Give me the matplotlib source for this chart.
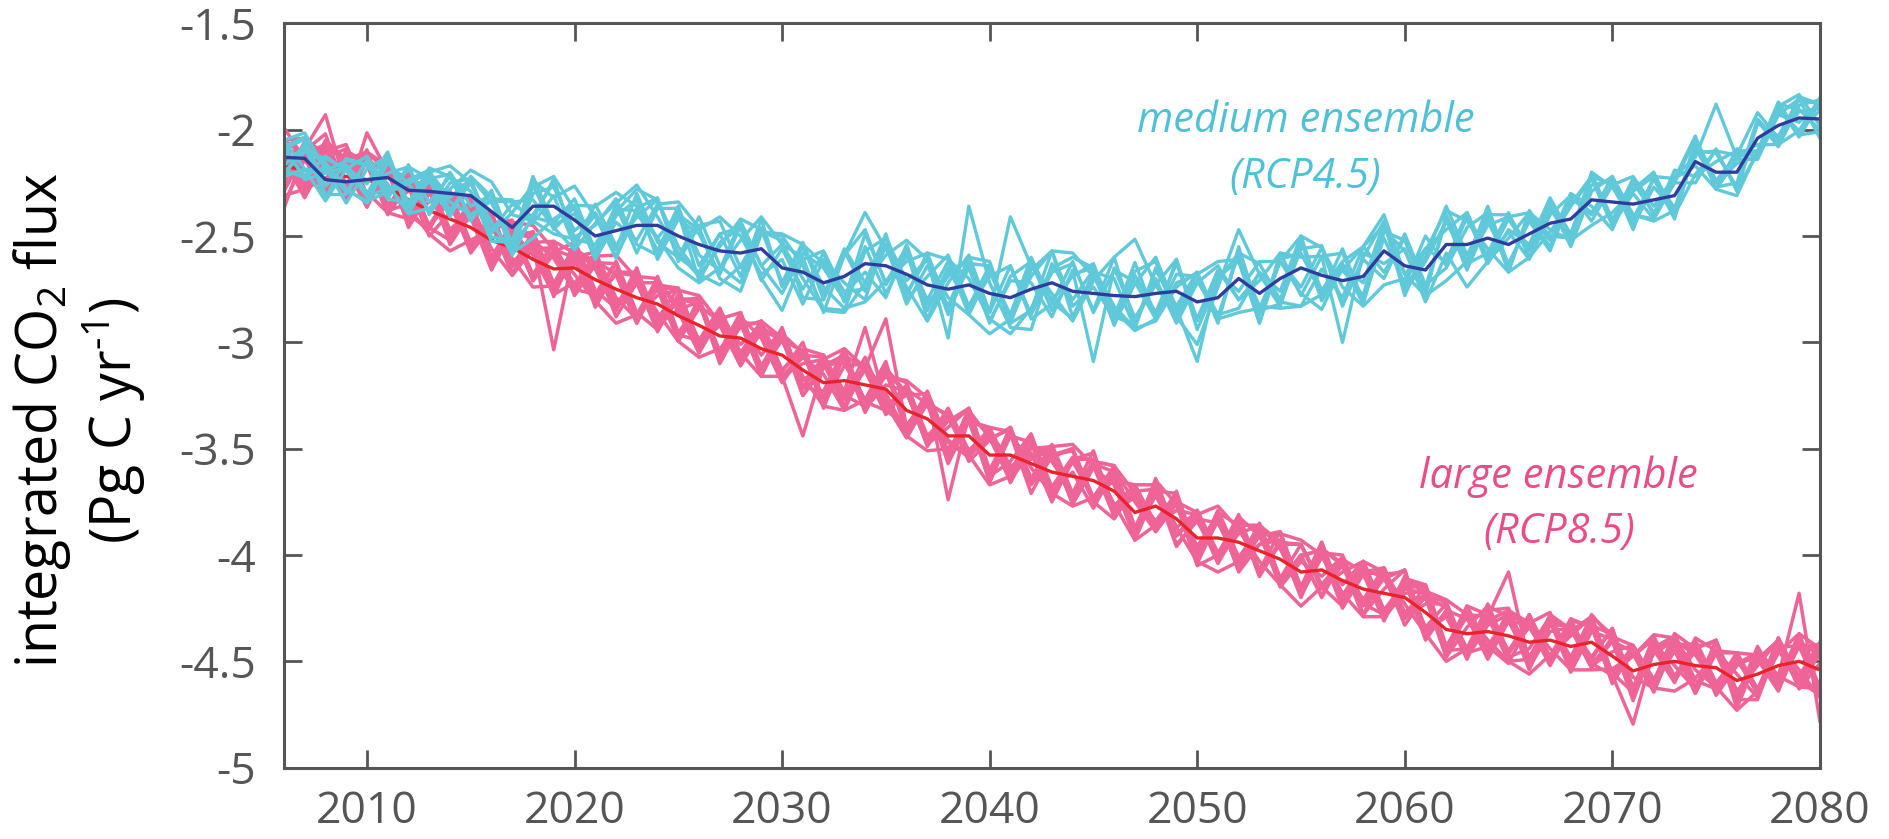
import numpy as np
import matplotlib
matplotlib.use('Agg')
import matplotlib.pyplot as plt

plt.rcParams['font.family'] = ['Open Sans', 'DejaVu Sans']
plt.rcParams['mathtext.fontset'] = 'custom'
plt.rcParams['mathtext.rm'] = 'Open Sans'
plt.rcParams['mathtext.it'] = 'Open Sans:italic'
plt.rcParams['axes.unicode_minus'] = False

years = np.arange(2006, 2081)

# ensemble means (Pg C / yr)
rcp45_mean = [-2.13, -2.135, -2.235, -2.245, -2.235, -2.225, -2.285, -2.29, -2.30, -2.31,
              -2.385, -2.46, -2.36, -2.36, -2.425, -2.50, -2.475, -2.45, -2.45, -2.50,
              -2.54, -2.57, -2.58, -2.56, -2.65, -2.67, -2.72, -2.69, -2.63, -2.64,
              -2.68, -2.73, -2.75, -2.73, -2.77, -2.79, -2.75, -2.72, -2.76, -2.77,
              -2.78, -2.785, -2.77, -2.76, -2.81, -2.79, -2.70, -2.77, -2.70, -2.65,
              -2.685, -2.71, -2.69, -2.57, -2.64, -2.66, -2.54, -2.54, -2.51, -2.54,
              -2.49, -2.44, -2.42, -2.33, -2.34, -2.35, -2.33, -2.31, -2.15, -2.20,
              -2.20, -2.04, -1.98, -1.945, -1.95]
rcp85_mean = [-2.17, -2.19, -2.20, -2.22, -2.235, -2.27, -2.33, -2.38, -2.42, -2.46,
              -2.52, -2.555, -2.61, -2.655, -2.65, -2.705, -2.75, -2.79, -2.82, -2.875,
              -2.92, -2.97, -2.98, -3.03, -3.06, -3.13, -3.19, -3.18, -3.20, -3.22,
              -3.32, -3.36, -3.44, -3.44, -3.53, -3.53, -3.57, -3.61, -3.63, -3.65,
              -3.70, -3.80, -3.77, -3.83, -3.92, -3.92, -3.94, -3.98, -4.02, -4.08,
              -4.07, -4.12, -4.16, -4.18, -4.20, -4.27, -4.35, -4.37, -4.36, -4.38,
              -4.41, -4.40, -4.43, -4.41, -4.475, -4.545, -4.515, -4.50, -4.52, -4.53,
              -4.59, -4.56, -4.52, -4.50, -4.54]

# member departures from the ensemble mean, in 0.01 Pg C / yr
rcp45_dev = [
    [4, 9, -3, 8, -6, 2, 11, 6, -4, -9, 5, 12, 3, -10, -14,
     6, 13, 19, 4, -8, -15, 2, 16, 9, -7, 12, -5, 10, 24, 8,
     -6, -17, 3, 14, -9, 38, 11, -5, -14, 6, 18, 27, 4, -12, -20,
     5, 23, 9, -11, -18, 3, -8, 14, 17, -4, 10, 7, 15, -9, 6,
     -12, 4, 11, -6, 8, 13, -3, 9, 2, 32, 7, -6, 10, 4, -5],
    [-7, 3, 10, 6, -8, -5, 4, 9, -2, 8, -12, -6, 9, 14, 5,
     -11, 4, -7, 10, 16, 8, -13, -18, 7, 15, 3, -12, -16, 6, 13,
     -3, 12, -23, 37, 5, -14, -19, 9, -4, 11, -13, 6, 17, -8, -28,
     12, -6, 15, 8, -12, -16, 7, -3, 13, -10, 6, 18, -5, 11, 14,
     -7, 9, -13, 4, 12, -5, -9, 6, 11, -4, 8, 12, -6, 3, 5],
    [3, -8, 6, -5, 9, -10, -6, 11, 8, 2, -14, -7, 12, 4, 16,
     9, -12, 5, -6, 11, -17, 4, 12, -14, -20, 6, 15, -8, -4, -15,
     14, -9, 6, 12, -13, 8, 3, -16, 10, -32, 13, -10, 4, 15, -9,
     10, 8, -14, 12, 5, 9, -29, 11, -6, 8, -15, -4, -20, -11, 3,
     10, -6, -9, 12, -8, 7, 13, -10, 6, -5, 4, -8, 9, 11, -3],
    [-8, 5, 8, -3, -11, 7, 3, -9, 10, -5, 8, -13, -4, 11, -8,
     5, 15, -9, -14, 10, 7, 16, 8, -12, 4, -15, 11, -3, -17, 14,
     -12, 4, 16, -10, 13, -12, 9, 15, -7, 3, -10, 16, -11, 8, 12,
     -8, -14, 10, -6, 15, -11, 5, -9, 14, -12, 4, 11, -8, 15, -10,
     7, -11, 12, -3, -13, 10, -6, 8, 12, -8, 6, -10, 5, -2, 7],
    [6, -10, 3, 7, -2, 12, -8, 5, -11, 9, 4, -7, 14, -9, 3,
     -10, 7, 12, -16, 8, 5, -11, 13, -8, 11, 7, -14, 10, 16, -9,
     11, -16, 8, 12, -9, 15, -12, 5, 13, -8, 18, -13, 7, -15, 9,
     15, -10, 6, 12, -13, 9, 13, -11, 6, -9, 16, -10, 13, -12, 7,
     -5, 12, -8, 7, 10, -12, 11, -6, 5, 9, -7, 8, -10, 6, 9],
    [-4, 6, -9, 11, 7, -8, 10, -5, 8, -10, 6, 13, -8, 5, -12,
     15, -7, 4, 12, -10, -13, 8, -11, 14, -9, 13, 9, -7, -12, 10,
     -14, 9, -8, 13, 15, -11, 12, -8, 7, 14, -10, -13, 11, -7, 14,
     -11, 13, -8, -12, 9, 14, -11, 8, -13, 15, -7, -11, 8, 12, -13,
     11, -8, 6, 10, -11, 5, -9, 12, -7, 5, 10, -6, 11, -8, -6],
    [8, -5, -10, 6, 11, -6, 5, 10, -8, 6, -9, 11, -5, -8, 10,
     -7, 12, -13, 8, 13, -5, -9, 15, -8, -12, 9, 7, -11, 14, -8,
     13, -12, 10, -11, 8, 15, -14, -10, 14, -9, 12, 7, -12, 15, -13,
     8, 12, -14, 9, 7, -9, 15, -12, 10, 7, -12, 14, -9, -7, 15,
     -11, 7, -10, 13, 7, -8, 10, -11, 8, -7, -5, 9, -8, 10, 7],
    [-9, 7, 6, -10, 5, 10, -11, 6, 9, -12, 10, -8, -6, 13, -10,
     10, -13, 8, 13, -12, 9, 14, -7, 8, 13, -12, -8, 13, -9, 15,
     -10, 15, -9, 8, -14, 10, 13, -13, 8, 12, -14, 10, -9, 13, -8,
     13, -10, 9, -13, 12, -7, 9, 14, -10, 13, -8, 12, -12, 8, -9,
     6, -13, 10, -7, 12, -10, 6, -7, 10, -8, 11, -9, 7, -6, 10],
    [5, 10, -7, -6, 9, -10, 12, -11, 5, 8, -10, 7, 10, -11, 6,
     -8, 10, 7, -12, 14, -10, 8, 12, -15, 9, -8, 14, -12, 8, -13,
     9, -7, 13, -14, 10, -8, 15, -9, -13, 10, 8, -15, 12, -10, 13,
     -12, 15, -10, 8, -9, 13, -12, 9, 14, -14, 10, -8, 15, -10, 12,
     -8, 10, -7, 12, -9, 12, -7, 6, -10, 11, -9, 7, -5, 9, -9],
    [-6, -9, 11, 5, -7, 10, -6, 8, -10, 9, 7, -11, 6, 9, -5,
     11, -9, 15, -8, -10, 13, -7, -14, 10, -7, 14, -8, 12, -13, 9,
     -9, 13, -12, 10, 13, -12, -10, 15, -12, 9, -13, 12, 15, -12, 10,
     -9, 12, 14, -10, 13, -12, 8, -13, 9, 12, -10, 13, -9, 10, -12,
     9, -8, 12, -10, 8, -7, 10, -9, -6, 10, -8, -7, 9, -9, 8],
    [8, 12, 5, -4, -10, -7, 3, 9, 13, 6, -5, -12, -15, -6, 7,
     14, 18, 9, -6, -15, -18, -8, 6, 15, 11, -3, -13, -17, -9, 5,
     16, 12, -4, -14, -19, -10, 6, 15, 18, 8, -7, -16, -12, 4, 13,
     17, 9, -6, -14, -18, -9, 5, 14, 12, -4, -12, -17, -8, 6, 13,
     10, -3, -10, -12, -5, 6, 11, 8, -2, -8, -11, -6, 5, 9, 7],
    [-9, -5, 4, 10, 7, -3, -11, -8, 2, 12, 14, 6, -7, -13, -9,
     -4, 9, 17, 12, -5, -14, -16, -6, 8, 16, 13, -2, -15, -18, -7,
     6, 15, 14, 3, -12, -17, -9, 7, 16, 12, -5, -15, -13, 2, 14,
     -10, -16, -7, 8, 15, 13, -3, -14, -16, -6, 9, 16, 11, -5, -13,
     -11, -4, 7, 11, 8, -5, -10, -7, 4, 10, 8, -3, -9, -6, 4],
]
rcp85_dev = [
    [6, 10, 27, -5, 11, -8, 4, 14, -7, 9, -10, 5, 13, -8, 4,
     -12, 8, 10, -7, 13, -9, 5, -13, 9, 7, -8, 12, -5, 27, -7,
     -10, 8, -13, 7, 12, -9, 5, -14, 8, 10, -7, 13, -9, 7, -12,
     9, -8, 12, 5, -10, 8, -13, 7, 10, -9, 4, 12, -8, 7, 30,
     -10, 8, -5, 12, -9, -25, 7, 10, 5, -8, 13, -7, 9, -12, 8],
    [-18, 5, 12, -10, 22, 7, -9, 13, -5, 8, 10, -12, 7, -38, 9,
     5, -10, 13, -7, 8, 12, -9, 7, -13, 10, -5, 9, -12, 8, 33,
     -8, 12, -30, 10, -9, 13, -8, 7, -10, 9, 12, -10, 5, -8, 13,
     -7, 10, -12, 8, 13, -9, 7, -5, 12, -10, 8, 13, -9, -7, 10,
     8, -12, 9, -7, 13, -8, 5, 10, -13, 7, -9, 12, -5, 32, -24],
    [10, -7, 15, 8, -12, 9, -5, 12, -8, 13, -9, 7, -10, 8, 12,
     -9, 7, -12, 10, 5, -8, 13, -7, 9, -10, -31, 8, 12, -9, 7,
     13, -10, 8, -7, 12, -13, 9, 5, -8, 14, -10, 8, -7, 12, -9,
     10, -13, 8, 12, -7, 9, -10, 13, -8, 5, 12, -9, 8, -13, 7,
     -9, 12, 8, -10, 7, -13, 9, -8, 12, -7, 10, -9, 13, -8, -10],
    [-5, 13, -8, 10, 7, -12, 9, -7, 12, -9, 8, -13, 5, 10, -8,
     12, -9, 7, -13, 10, -7, 8, 12, -10, 7, 9, -12, 13, -8, -10,
     9, -12, 7, 13, -8, 10, -14, 8, 12, -9, 7, -10, 13, -8, 10,
     -12, 7, -9, 13, -8, 10, 7, -12, 9, -13, 8, 10, -7, 12, -9,
     13, -8, 10, -12, 7, 9, -10, 8, -13, 12, -7, 8, -10, 9, 7],
    [18, 5, -10, 9, -7, 12, -13, 8, 7, -10, 13, -8, 9, -12, -7,
     8, 12, -9, 7, -12, 13, -8, 10, 5, -13, 8, -9, 12, 7, -10,
     -7, 10, -9, 12, 8, -12, 13, -7, 9, -10, -13, 12, -8, 10, -7,
     8, -10, 13, -9, 7, -12, 10, 8, -13, 9, -7, 12, -10, 13, -8,
     7, -9, 12, 8, -13, 10, -8, 13, -7, -10, 9, 7, -12, 10, -8],
    [-20, 9, 18, -8, 13, 10, -7, -9, 13, 5, -12, 9, -7, 12, -13,
     7, -8, 10, 12, -9, -7, 13, -10, 8, 9, -12, 7, 10, -13, 8,
     -9, 13, -8, 7, -12, 9, 10, -13, 7, -8, 12, 9, -12, 7, -10,
     12, 8, -10, 7, 13, -8, -12, 10, 7, -9, 13, -8, 9, 7, -12,
     -8, 10, -9, 13, 8, -12, 7, -10, 13, 8, -9, -12, 10, -7, 13],
    [8, -12, 7, 13, -9, 5, 12, -8, -10, 12, 7, -9, 13, -7, 10,
     -10, 13, -7, -12, 8, 10, -9, 7, 12, -8, 13, -10, 7, 10, -9,
     12, -8, 10, -12, 7, 13, -9, 8, -12, 10, -7, 13, -9, 8, 12,
     -8, 10, -12, 9, -7, 13, -10, 8, 12, -9, 7, -13, 10, -8, 9,
     10, -9, 7, 12, -10, 8, -13, 9, 7, -12, 10, -8, 13, -9, -12],
    [-12, 8, 13, -7, 10, -9, 8, 13, -12, 7, -8, 12, -10, 9, 5,
     13, -7, 9, -10, 8, -13, 12, -8, 7, 10, -9, 13, -7, -10, 12,
     -8, 9, -10, 13, -7, 12, -9, 8, 13, -10, 7, -12, 9, -8, 13,
     -9, 12, 7, -10, 8, -13, 10, -7, 9, 12, -8, 7, -12, 10, 13,
     -7, 9, -12, 8, 10, -8, 13, -9, 7, -12, 8, 10, -7, 13, -9],
    [9, -8, 10, 15, -7, 8, -12, 10, 7, -9, 12, -7, 8, 13, -10,
     -7, 12, -8, 9, 13, -10, 7, -12, 8, -7, 10, 13, -9, 7, -12,
     10, 7, -12, 8, -9, 13, -7, 10, -12, 8, 9, -13, 7, 12, -8,
     13, -7, 10, -12, 8, 9, -7, 12, -10, 8, -13, 9, 7, -10, 12,
     -12, 7, 10, -8, 13, -9, 8, 12, -10, 7, -8, 13, -9, 8, 10],
    [-7, 12, -9, 8, 12, -10, 13, -8, 9, -12, 7, 10, -8, 13, 7,
     -10, 8, 12, -9, 7, 13, -12, 9, -8, 10, 8, -7, 13, -12, 7,
     9, -13, 12, -8, 10, -7, 12, -10, 8, 13, -9, 7, -10, 8, -13,
     -8, 13, -9, 7, -12, 10, 8, -13, 12, -7, 9, -10, 13, 8, -7,
     10, -8, 13, -10, -9, 12, -7, 8, 10, -13, 7, 9, -8, 12, -12],
    [12, 7, -12, 10, -8, 13, -7, 9, -10, 8, 13, -9, 7, -10, 9,
     8, -13, 7, 10, -12, 8, 9, -7, 13, -10, 7, 12, -8, 9, -7,
     -13, 8, 9, -10, 13, -8, 7, 12, -9, 7, -12, 10, 8, -13, 9,
     7, -9, 12, 8, -10, 13, -8, 7, -12, 10, 8, -9, 13, -7, -13,
     9, 13, -7, 10, -8, 7, 12, -9, 8, 13, -10, 7, 12, -9, 7],
    [-9, 13, 8, -12, 9, 7, -10, 12, -8, 13, -10, 8, 12, -7, 10,
     -13, 9, -8, 12, -10, 9, 7, -13, 10, 8, -12, 9, -7, 13, -8,
     7, 12, -8, 9, -13, 10, -7, 13, -8, 9, 12, -7, 10, -12, 8,
     -10, 8, 12, -9, 13, -7, 10, -8, 7, 13, -10, 8, -9, 12, 9,
     -13, 10, 8, -12, 9, 12, -8, 10, -12, 8, 13, -10, 7, -8, 10],
    [5, -10, 13, 7, -12, 9, 10, -8, 12, -7, 8, 13, -10, 7, -9,
     9, 7, -12, 13, -8, 10, -7, 12, -9, 13, -8, 10, 8, -7, 13,
     -12, 7, 10, -9, 8, 12, -10, 7, 13, -8, 10, -9, 12, 7, -10,
     8, -12, 7, 13, -9, 8, 12, -7, -10, 9, 13, -8, 10, -12, 7,
     8, -10, 13, 7, -12, 9, -8, 13, 8, -10, 12, -7, 9, 7, -10],
    [-8, 9, -7, 12, 8, -13, 7, 10, -9, 12, -8, 7, 10, -13, 8,
     -7, 13, -10, 8, 12, -9, 10, -8, 13, -7, 9, -10, 12, -8, 10,
     8, -10, 13, -7, 12, -9, 8, 10, -13, 7, -8, 12, -10, 13, -7,
     12, -8, 9, -13, 7, 10, -9, 13, -8, 7, 12, -10, -7, 9, -8,
     13, -9, 7, 12, -8, -10, 13, -7, 9, 12, -13, 8, -10, 7, 12],
    [12, 15, 8, 3, -6, -12, -9, 4, 10, 14, 6, -5, -13, -8, 2,
     11, 16, 9, -4, -12, -15, -6, 5, 13, 8, -3, -11, -14, -7, 6,
     14, 10, -2, -9, -14, -10, 3, 12, 15, 7, -6, -13, -9, 4, 11,
     15, 6, -5, -12, -16, -8, 4, 13, 10, -3, -10, -15, -7, 5, 12,
     9, -4, -11, -13, -6, 7, 14, 11, -2, -9, -14, -8, 6, 13, 10],
    [-14, -9, -3, 8, 13, 7, -4, -11, -15, -6, 5, 12, 16, 9, -3,
     -10, -16, -8, 4, 12, 14, 6, -7, -13, -10, 3, 11, 15, 8, -5,
     -12, -15, -6, 7, 13, 11, -2, -10, -14, -8, 5, 13, 10, -4, -11,
     -16, -9, 3, 12, 15, 7, -6, -13, -11, 2, 10, 14, 9, -4, -12,
     -15, -7, 5, 12, 10, -3, -11, -14, -6, 7, 13, 9, -5, -12, -9],
    [3, -13, 6, -4, 14, -11, -2, 12, -9, 5, -14, 8, 2, -12, 13,
     -5, -9, 14, -10, 3, 11, -13, 6, -3, 12, -8, -4, 15, -11, 2,
     9, -12, 4, 13, -10, -3, 14, -9, 2, -13, 10, 5, -12, 8, -4,
     11, -14, 3, 9, -11, 6, -2, 13, -12, 4, 9, -13, 3, 12, -10,
     -3, 11, -12, 5, 8, -14, 10, -2, -11, 13, -5, 4, 12, -13, 3],
    [-2, 12, -11, 4, -13, 10, 6, -12, 3, 11, -4, -13, 9, 5, -11,
     13, -4, -10, 12, 2, -13, 9, -3, 11, -12, 6, 4, -14, 10, -2,
     -11, 13, -3, -10, 12, -5, 2, 11, -13, 6, 3, -12, 10, -4, 12,
     -10, 4, 12, -13, 5, -3, 11, -12, 2, 13, -9, 6, -11, 3, 10,
     -12, 4, 9, -11, 2, 12, -10, 5, -13, 8, 3, -11, 10, -4, -13],
]

xticks = [2010, 2020, 2030, 2040, 2050, 2060, 2070, 2080]
yticks = [-5, -4.5, -4, -3.5, -3, -2.5, -2, -1.5]
ytick_labels = ['-5', '-4.5', '-4', '-3.5', '-3', '-2.5', '-2', '-1.5']

cyan = '#5fc9da'
pink = '#ef6496'
navy = '#2f3c9c'
red = '#e8232b'
grey = '#555555'

fig = plt.figure(figsize=(18.89, 8.39), dpi=100)
ax = fig.add_axes([0.1503, 0.0850, 0.8131, 0.8872])

# large ensemble members, then its mean
for dev in rcp85_dev:
    ax.plot(years, np.array(rcp85_mean) + np.array(dev) / 100.0, color=pink, lw=2.5)
ax.plot(years, rcp85_mean, color=red, lw=2.4)

# medium ensemble on top
for dev in rcp45_dev:
    ax.plot(years, np.array(rcp45_mean) + np.array(dev) / 100.0, color=cyan, lw=2.4)
ax.plot(years, rcp45_mean, color=navy, lw=2.4)

ax.set_xlim(2006, 2080)
ax.set_ylim(-5, -1.5)
ax.set_xticks(xticks)
ax.set_xticklabels([str(x) for x in xticks])
ax.set_yticks(yticks)
ax.set_yticklabels(ytick_labels)
ax.tick_params(direction='in', top=True, right=True, length=13, width=2,
               color=grey, labelcolor=grey, labelsize=32)
ax.tick_params(axis='y', pad=20)
ax.tick_params(axis='x', pad=16)
for s in ax.spines.values():
    s.set_linewidth(2.2)
    s.set_color(grey)

ax.text(0.665, 0.854, 'medium ensemble', transform=ax.transAxes, ha='center',
        va='baseline', fontsize=30, style='italic', color='#4fc0d6')
ax.text(0.665, 0.779, '(RCP4.5)', transform=ax.transAxes, ha='center',
        va='baseline', fontsize=30, style='italic', color='#4fc0d6')
ax.text(0.830, 0.376, 'large ensemble', transform=ax.transAxes, ha='center',
        va='baseline', fontsize=30, style='italic', color='#ea4c86')
ax.text(0.830, 0.302, '(RCP8.5)', transform=ax.transAxes, ha='center',
        va='baseline', fontsize=30, style='italic', color='#ea4c86')

fig.text(0.042, 0.4994, 'integrated CO$_2$ flux\n(Pg C yr$^{\\text{-}1}$)', rotation=90,
         ha='center', va='center', multialignment='center', fontsize=40,
         linespacing=1.15, color='black')

plt.savefig('out.png', dpi=100)
